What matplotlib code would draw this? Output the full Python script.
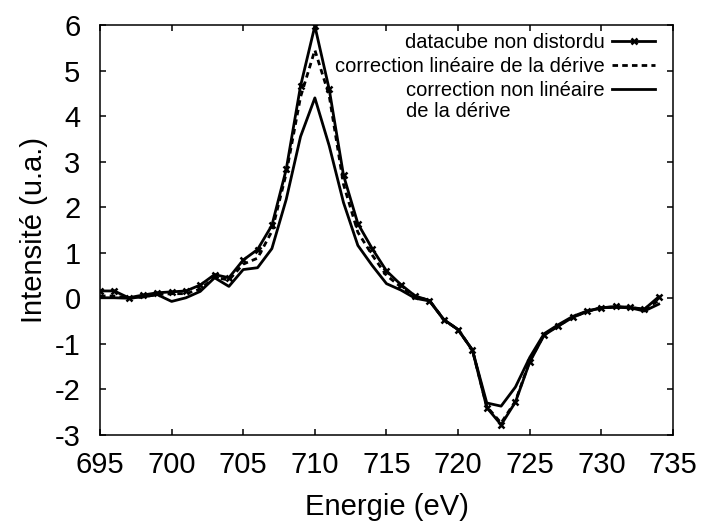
import matplotlib
matplotlib.use('Agg')
import matplotlib.pyplot as plt

energie = list(range(695, 735))

# datacube non distordu (avec croix)
datacube = [0.16, 0.16, 0.01, 0.07, 0.12, 0.14, 0.16, 0.29, 0.52, 0.45,
            0.84, 1.07, 1.60, 2.83, 4.66, 5.98, 4.59, 2.70, 1.64, 1.09,
            0.60, 0.30, 0.05, -0.05, -0.47, -0.69, -1.14, -2.40, -2.78, -2.28,
            -1.40, -0.81, -0.61, -0.42, -0.29, -0.21, -0.18, -0.20, -0.24, 0.03]

# correction lineaire (pointilles)
lineaire = [0.05, 0.05, 0.00, 0.03, 0.08, 0.10, 0.10, 0.20, 0.46, 0.40,
            0.75, 0.88, 1.47, 2.74, 4.42, 5.45, 4.45, 2.50, 1.45, 0.95,
            0.50, 0.25, 0.04, -0.05, -0.47, -0.69, -1.14, -2.38, -2.74, -2.26,
            -1.38, -0.80, -0.60, -0.42, -0.29, -0.21, -0.19, -0.20, -0.25, -0.05]

# correction non lineaire (trait plein)
non_lineaire = [0.01, 0.01, 0.00, 0.03, 0.08, -0.07, 0.01, 0.15, 0.45, 0.26,
                0.63, 0.67, 1.09, 2.17, 3.55, 4.40, 3.35, 2.10, 1.16, 0.72,
                0.32, 0.18, 0.00, -0.06, -0.47, -0.69, -1.14, -2.30, -2.37, -1.95,
                -1.30, -0.78, -0.58, -0.40, -0.28, -0.21, -0.20, -0.21, -0.28, -0.13]

labels = ['datacube non distordu', 'correction linéaire de la dérive',
          'correction non linéaire']
suite = 'de la dérive'

plt.rcParams['font.family'] = ['Liberation Sans', 'DejaVu Sans']
plt.rcParams['axes.unicode_minus'] = False

fig = plt.figure(figsize=(7.04, 5.22), dpi=100)
ax = fig.add_axes([0.142, 0.167, 0.814, 0.785])

ax.plot(energie, datacube, color='black', lw=2, marker='x', ms=5, mew=1.8,
        label=labels[0])
ax.plot(energie, lineaire, color='black', lw=2, ls=(0, (2, 1.5)),
        label=labels[1])
ax.plot(energie, non_lineaire, color='black', lw=2, label=labels[2])

ax.set_xlim(695, 735)
ax.set_ylim(-3, 6)
ax.set_xticks(range(695, 736, 5))
ax.set_yticks(range(-3, 7))
ax.tick_params(direction='in', length=4.5, width=1.1, top=True, right=True,
               labelsize=21)
ax.tick_params(axis='x', pad=12)
ax.tick_params(axis='y', pad=14)
for s in ax.spines.values():
    s.set_linewidth(1.1)

ax.set_xlabel('Energie (eV)', fontsize=21, labelpad=10)
ax.set_ylabel('Intensité (u.a.)', fontsize=21, labelpad=5)

leg = ax.legend(loc='upper right', bbox_to_anchor=(0.983, 1.0), frameon=False,
                markerfirst=False, fontsize=14.5, handlelength=2.15,
                handletextpad=0.35, labelspacing=0.25, borderaxespad=0)

# second line of the third entry, left aligned under it
fig.canvas.draw()
bb = leg.get_texts()[2].get_window_extent()
x0, y0 = fig.transFigure.inverted().transform((bb.x0, bb.y0))
fig.text(x0, y0 - 0.003, suite, fontsize=14.5, ha='left', va='top')

fig.savefig('out.png', dpi=100)
